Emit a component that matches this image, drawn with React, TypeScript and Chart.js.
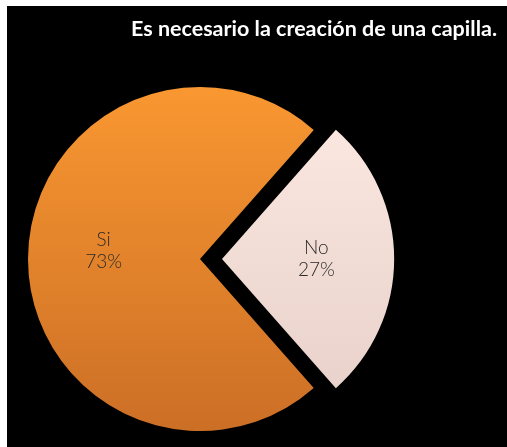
import { useEffect, useRef } from "react";
import { Chart, ArcElement, PieController } from "chart.js";

Chart.register(ArcElement, PieController);

const categories = ["Si", "No"];
const values = [73, 27];
const percentLabels = ["73%", "27%"];
const titleText = "Es necesario la creación de una capilla.";

const topColors = ["#F99731", "#FDEAE2"];
const bottomColors = ["#CC6F26", "#E6CFC8"];

// pixel shift of the exploded "No" slice (Chart.js translates by offset / 4)
const EXPLODE = 22;

export default function App() {
  const canvasRef = useRef<HTMLCanvasElement | null>(null);

  useEffect(() => {
    const canvas = canvasRef.current;
    if (!canvas) return;

    const titlePlugin = {
      id: "customTitle",
      afterDraw(chart: any) {
        const ctx = chart.ctx;
        ctx.save();
        ctx.font = "bold 21.5px Lato";
        ctx.fillStyle = "#FFFFFF";
        ctx.textAlign = "right";
        ctx.textBaseline = "alphabetic";
        ctx.fillText(titleText, 490, 30);
        ctx.restore();
      },
    };

    const labelPlugin = {
      id: "sliceLabels",
      afterDatasetsDraw(chart: any) {
        const ctx = chart.ctx;
        const meta = chart.getDatasetMeta(0);
        ctx.save();
        ctx.font = "300 19px Lato";
        ctx.fillStyle = "#2a2a2a";
        ctx.textAlign = "center";
        ctx.textBaseline = "middle";
        meta.data.forEach((arc: any, i: number) => {
          const p = arc.getProps(["x", "y", "startAngle", "endAngle", "outerRadius"], true);
          const mid = (p.startAngle + p.endAngle) / 2;
          const shift = (arc.options.offset || 0) / 4;
          const r = p.outerRadius * 0.56 + shift;
          const cx = p.x + Math.cos(mid) * r;
          const cy = p.y + Math.sin(mid) * r - (i === 0 ? 8 : 0);
          ctx.fillText(categories[i], cx - (i === 1 ? 2 : 0), cy - 11);
          ctx.fillText(percentLabels[i], cx - (i === 1 ? 2 : 0), cy + 11);
        });
        ctx.restore();
      },
    };

    const chart = new Chart(canvas, {
      type: "pie",
      data: {
        labels: categories,
        datasets: [
          {
            data: values,
            offset: (c: any) => (c.dataIndex === 1 ? EXPLODE * 4 : 0),
            borderWidth: 0,
            backgroundColor: (c: any) => {
              const ch = c.chart;
              const area = ch.chartArea;
              const i = c.dataIndex ?? 0;
              if (!area) return topColors[i];
              const cy = (area.top + area.bottom) / 2;
              const g = ch.ctx.createLinearGradient(0, cy - 172, 0, cy + 172);
              g.addColorStop(0, topColors[i]);
              g.addColorStop(1, bottomColors[i]);
              return g;
            },
          },
        ],
      },
      options: {
        responsive: false,
        animation: false,
        rotation: 138.6,
        radius: 172,
        layout: { padding: { top: 65, right: 114, bottom: 0, left: 0 } },
        plugins: {
          legend: { display: false },
          tooltip: { enabled: false },
        },
      },
      plugins: [titlePlugin, labelPlugin],
    });

    return () => chart.destroy();
  }, []);

  return (
    <div
      style={{
        position: "absolute",
        left: 7,
        top: 6,
        width: 500,
        height: 441,
        background: "#000000",
      }}
    >
      <canvas ref={canvasRef} width={500} height={441} style={{ width: 500, height: 441, display: "block" }} />
    </div>
  );
}
